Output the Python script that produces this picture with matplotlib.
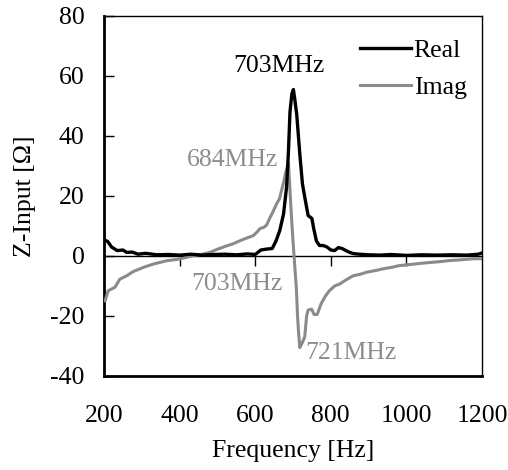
import matplotlib
matplotlib.use("Agg")
import matplotlib.pyplot as plt

plt.rcParams['font.family'] = ['Liberation Serif', 'DejaVu Serif']

# Real part
freq_real = [200, 210, 220, 235, 250, 260, 275, 290, 310, 340, 370, 400, 430, 460, 490,
             520, 550, 580, 600, 615, 630, 645, 655, 665, 675, 683, 688, 692, 697, 701,
             705, 710, 718, 725, 732, 740, 750, 755, 762, 770, 780, 790, 800, 810, 820,
             830, 840, 850, 860, 875, 900, 930, 960, 1000, 1040, 1080, 1120, 1160, 1190, 1200]
z_real = [5.5, 4.8, 3.0, 1.8, 2.0, 1.2, 1.3, 0.6, 0.9, 0.4, 0.5, 0.3, 0.6, 0.3, 0.5,
          0.6, 0.4, 0.7, 0.5, 2.0, 2.3, 2.5, 5.0, 8.5, 14, 23, 35, 48, 54, 55.5,
          52, 47, 34, 24, 19, 13.5, 12.5, 9, 5, 3.5, 3.5, 3.0, 2.0, 1.8, 2.8,
          2.5, 1.8, 1.2, 0.8, 0.6, 0.4, 0.3, 0.5, 0.2, 0.4, 0.3, 0.4, 0.3, 0.6, 1.0]

# Imaginary part
freq_imag = [200, 203, 211, 229, 242, 260, 277, 304, 330, 365, 400, 436, 460, 480, 501,
             525, 540, 560, 578, 595, 605, 613, 622, 630, 640, 648, 657, 664, 670, 676,
             681, 688, 695, 700, 705, 709, 712, 715, 718, 724, 731, 736, 740, 749, 756,
             764, 774, 785, 796, 810, 824, 840, 859, 880, 895, 920, 937, 960, 981, 1005,
             1027, 1050, 1069, 1095, 1115, 1140, 1159, 1180, 1200]
z_imag = [-15, -14.9, -11.6, -10.4, -7.7, -6.6, -5.2, -3.8, -2.7, -1.6, -1.0, 0.1, 0.6, 1.2, 2.3,
          3.4, 4.0, 5.1, 6.0, 6.8, 8.0, 9.2, 9.5, 10.3, 13, 15, 17.5, 19, 22, 25,
          28, 31, 15, 5, -4, -11, -20, -26, -30.5, -29, -27, -20, -18, -17.7, -19.5,
          -19.5, -16, -13.5, -11.6, -10, -9.3, -8, -6.6, -6.0, -5.4, -4.8, -4.3, -3.8, -3.2, -2.9,
          -2.6, -2.3, -2.1, -1.8, -1.5, -1.3, -1.1, -0.9, -0.9]

yticks = [-40, -20, 0, 20, 40, 60, 80]
ytick_labels = ['-40', '-20', '0', '20', '40', '60', '80']
xticks = [200, 400, 600, 800, 1000, 1200]
xtick_labels = ['200', '400', '600', '800', '1000', '1200']

annotations = [
    ('703MHz', 663, 63.3, 'black'),
    ('684MHz', 539, 32, '#8c8c8c'),
    ('703MHz', 551, -9.3, '#8c8c8c'),
    ('721MHz', 854, -32.3, '#8c8c8c'),
]

fs = 18.5
gray = '#8a8a8a'

fig = plt.figure(figsize=(5.08, 4.70), dpi=100)
ax = fig.add_axes([104/508, 1 - 376/470, 378/508, 360/470])

ax.plot(freq_imag, z_imag, color=gray, lw=2.2, label='Imag', zorder=3)
ax.plot(freq_real, z_real, color='black', lw=2.4, label='Real', zorder=4)

ax.set_xlim(200, 1200)
ax.set_ylim(-40, 80)
ax.set_yticks(yticks)
ax.set_yticklabels(ytick_labels)
ax.set_xticks(xticks)
ax.set_xticklabels(xtick_labels)

ax.tick_params(axis='y', direction='in', length=7, width=1, pad=14, labelsize=fs)
ax.tick_params(axis='x', length=0, pad=21, labelsize=fs)

for side in ['left', 'bottom']:
    ax.spines[side].set_linewidth(2.0)
for side in ['top', 'right']:
    ax.spines[side].set_linewidth(1.0)

# zero line axis with ticks
sec = ax.secondary_xaxis(1/3)
sec.set_xticks([400, 600, 800, 1000])
sec.tick_params(axis='x', direction='out', length=7, width=1, labelbottom=False, labeltop=False)
sec.spines['bottom'].set_linewidth(1.0)
sec.spines['bottom'].set_color('black')

ax.set_xlabel('Frequency [Hz]', fontsize=fs, labelpad=9)
ax.set_ylabel('Z-Input [Ω]', fontsize=fs, labelpad=10)

for txt, x, y, c in annotations:
    ax.text(x, y, txt, color=c, fontsize=fs, ha='center', va='center', zorder=5)

handles, labels = ax.get_legend_handles_labels()
order = [1, 0]
ax.legend([handles[i] for i in order], [labels[i] for i in order], loc='upper right',
          bbox_to_anchor=(1.0, 0.98),
          frameon=False, fontsize=fs, handlelength=2.0, handletextpad=0.1,
          borderaxespad=0.2, labelspacing=0.55)

fig.savefig('out.png', dpi=100)
